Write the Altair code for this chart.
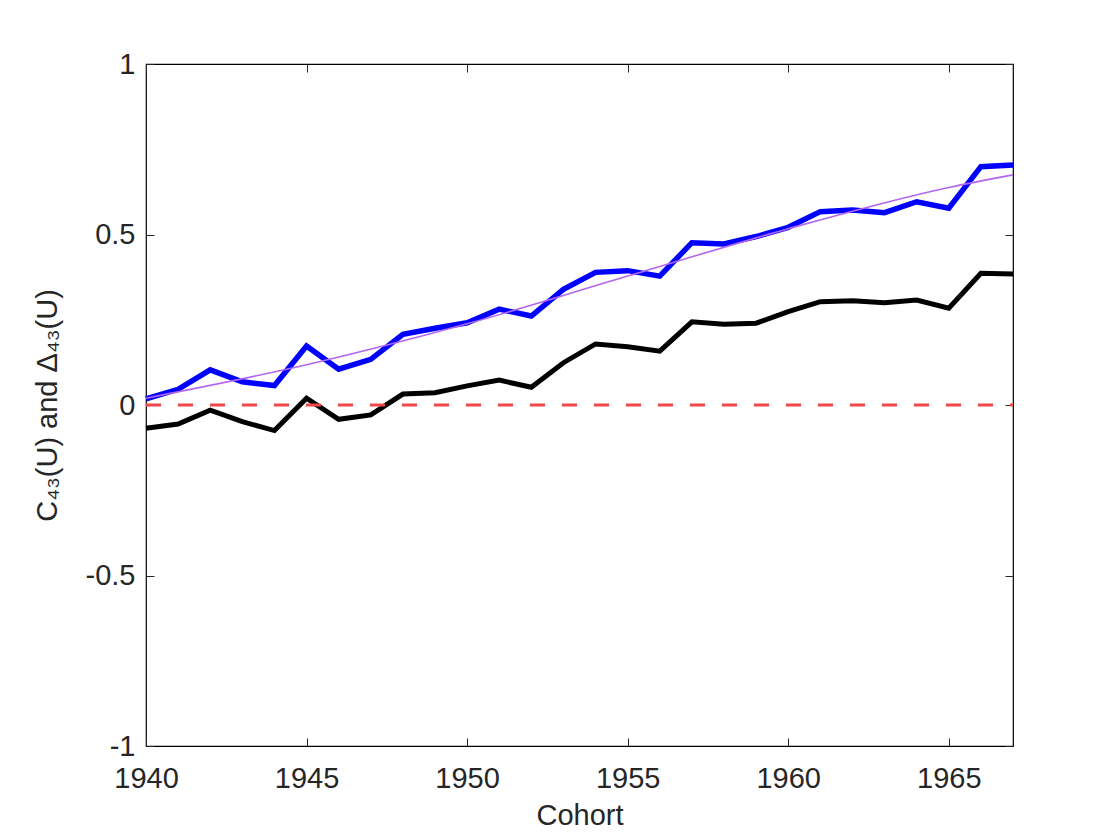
import altair as alt
import pandas as pd

# ---- data ----
years = list(range(1940, 1968))
blue_vals = [0.018, 0.046, 0.103, 0.068, 0.057, 0.173, 0.105, 0.134, 0.207, 0.225,
             0.241, 0.281, 0.261, 0.339, 0.389, 0.394, 0.378, 0.476, 0.472, 0.494,
             0.521, 0.567, 0.572, 0.564, 0.596, 0.577, 0.699, 0.704]
black_vals = [-0.068, -0.056, -0.015, -0.049, -0.075, 0.020, -0.042, -0.029, 0.032, 0.036,
              0.056, 0.073, 0.052, 0.124, 0.179, 0.171, 0.158, 0.244, 0.237, 0.240,
              0.274, 0.303, 0.306, 0.300, 0.308, 0.284, 0.386, 0.384]
trend_years = [1940, 1945, 1950, 1955, 1960, 1965, 1967]
trend_vals = [0.020, 0.118, 0.238, 0.378, 0.517, 0.638, 0.675]
zero_years = [1940, 1967]
zero_vals = [0.0, 0.0]

x_ticks = [1940, 1945, 1950, 1955, 1960, 1965]
y_ticks = [-1, -0.5, 0, 0.5, 1]
x_title = "Cohort"
y_title = "C₄₃(U) and Δ₄₃(U)"

FONT = "Liberation Sans"
TXT = "#262626"
FS = 29

df = pd.DataFrame({"year": years, "blue": blue_vals, "black": black_vals})
df_trend = pd.DataFrame({"year": trend_years, "v": trend_vals})
df_zero = pd.DataFrame({"year": zero_years, "v": zero_vals})

x_scale = alt.Scale(domain=[1940, 1967], nice=False, zero=False)
y_scale = alt.Scale(domain=[-1, 1], nice=False, zero=False)

x_axis = alt.Axis(values=x_ticks, format="d", orient="bottom", offset=-8, tickSize=8,
                  tickColor=TXT, domain=False, grid=False, labelFont=FONT,
                  labelFontSize=FS, labelColor=TXT, labelBaseline="alphabetic",
                  labelPadding=41, labelFlush=False, labelOverlap=False,
                  title=x_title, titleFont=FONT, titleFontSize=FS,
                  titleFontWeight="normal", titleColor=TXT, titleY=86,
                  titleBaseline="alphabetic")
y_axis = alt.Axis(values=y_ticks, orient="left", offset=-8, tickSize=8, tickColor=TXT,
                  domain=False, grid=False, labelFont=FONT, labelFontSize=FS,
                  labelColor=TXT, labelPadding=11, labelFlush=False, labelOverlap=False,
                  labelExpr="'' + datum.value",
                  title=y_title, titleFont=FONT, titleFontSize=FS,
                  titleFontWeight="normal", titleColor=TXT, titleX=-98, titleY=341,
                  titleAngle=270, titleBaseline="alphabetic", titleAlign="center")
x_axis_top = alt.Axis(values=x_ticks, orient="top", offset=-8, tickSize=8, tickColor=TXT,
                      domain=False, grid=False, labels=False, title=None)
y_axis_right = alt.Axis(values=y_ticks, orient="right", offset=-8, tickSize=8,
                        tickColor=TXT, domain=False, grid=False, labels=False, title=None)

base = alt.Chart(df)
blue_line = base.mark_line(color="#0000ff", strokeWidth=5.5).encode(
    x=alt.X("year:Q", scale=x_scale, axis=x_axis),
    y=alt.Y("blue:Q", scale=y_scale, axis=y_axis),
)
black_line = base.mark_line(color="#000000", strokeWidth=5).encode(
    x=alt.X("year:Q", scale=x_scale, axis=x_axis),
    y=alt.Y("black:Q", scale=y_scale, axis=y_axis),
)
trend_line = alt.Chart(df_trend).mark_line(color="#b366f0", strokeWidth=1.6,
                                            interpolate="monotone").encode(
    x=alt.X("year:Q", scale=x_scale, axis=x_axis),
    y=alt.Y("v:Q", scale=y_scale, axis=y_axis),
)
main = alt.layer(blue_line, black_line, trend_line)

zero_line = alt.Chart(df_zero).mark_line(color="#f04848", strokeWidth=3,
                                         strokeDash=[15, 17]).encode(
    x=alt.X("year:Q", scale=x_scale, axis=x_axis_top),
    y=alt.Y("v:Q", scale=y_scale, axis=y_axis_right),
)

chart = alt.layer(main, zero_line).resolve_scale(
    x="independent", y="independent"
).properties(
    width=867, height=682,
    padding={"left": 138, "top": 56, "right": 99, "bottom": 86},
    autosize="none",
    view=alt.ViewBackground(stroke="#000000", strokeWidth=1.2),
).configure_view(stroke="#000000", strokeWidth=1.2).configure(background="white")

chart.save("out.html", embed_options={"renderer": "svg", "actions": False})
